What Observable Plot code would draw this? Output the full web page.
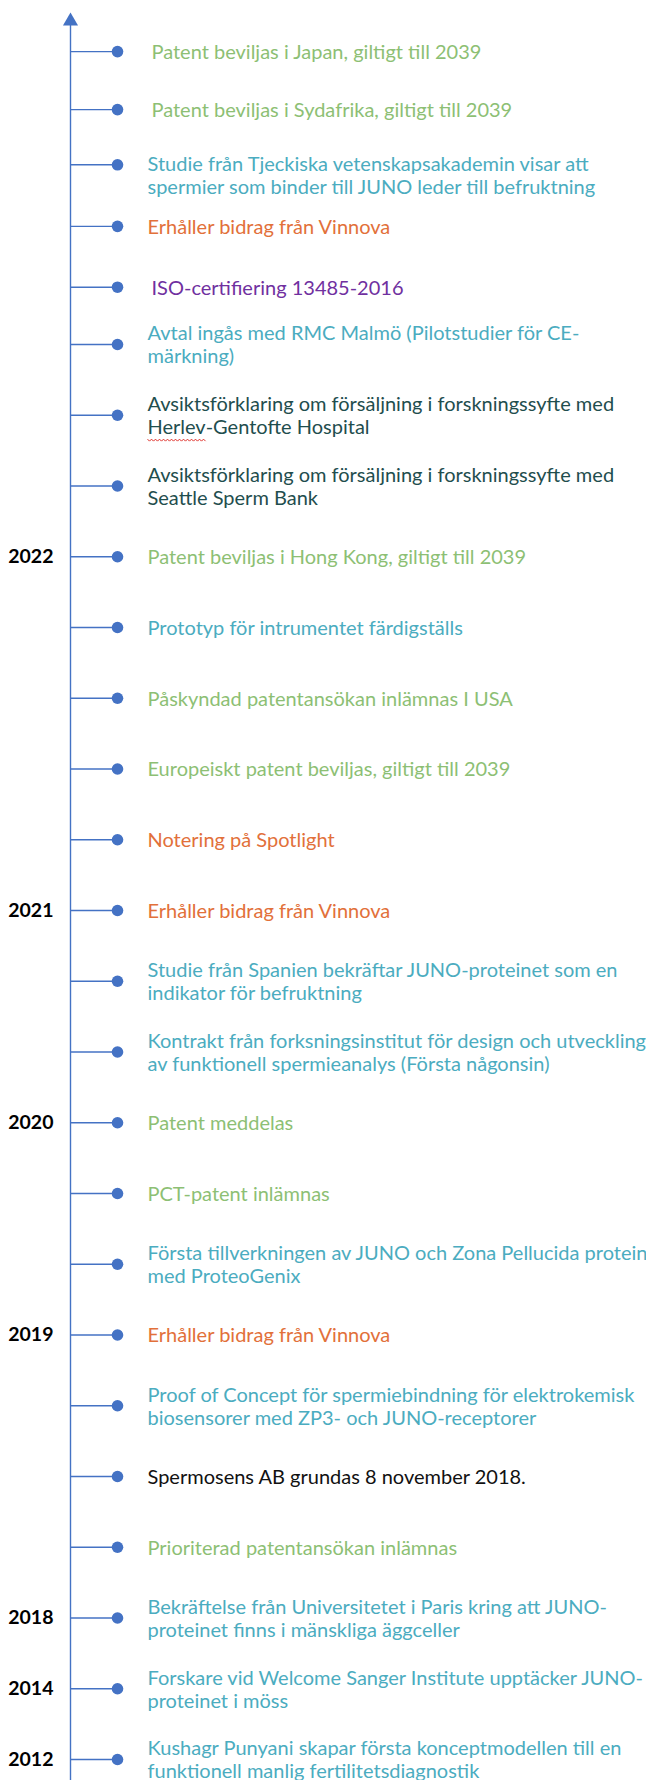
<!DOCTYPE html>
<html>
<head>
<meta charset="utf-8">
<script src="https://cdn.jsdelivr.net/npm/d3@7"></script>
<script src="https://cdn.jsdelivr.net/npm/@observablehq/plot@0.6"></script>
<style>
  html, body { margin: 0; padding: 0; background: #ffffff; }
  #chart svg { display: block; }
</style>
</head>
<body>
<div id="chart"></div>
<script>
// Events from top (latest) to bottom (earliest)
const eventTexts = [
  "Patent beviljas i Japan, giltigt till 2039",
  "Patent beviljas i Sydafrika, giltigt till 2039",
  "Studie från Tjeckiska vetenskapsakademin visar att\nspermier som binder till JUNO leder till befruktning",
  "Erhåller bidrag från Vinnova",
  "ISO-certifiering 13485-2016",
  "Avtal ingås med RMC Malmö (Pilotstudier för CE-\nmärkning)",
  "Avsiktsförklaring om försäljning i forskningssyfte med\nHerlev-Gentofte Hospital",
  "Avsiktsförklaring om försäljning i forskningssyfte med\nSeattle Sperm Bank",
  "Patent beviljas i Hong Kong, giltigt till 2039",
  "Prototyp för intrumentet färdigställs",
  "Påskyndad patentansökan inlämnas I USA",
  "Europeiskt patent beviljas, giltigt till 2039",
  "Notering på Spotlight",
  "Erhåller bidrag från Vinnova",
  "Studie från Spanien bekräftar JUNO-proteinet som en\nindikator för befruktning",
  "Kontrakt från forksningsinstitut för design och utveckling\nav funktionell spermieanalys (Första någonsin)",
  "Patent meddelas",
  "PCT-patent inlämnas",
  "Första tillverkningen av JUNO och Zona Pellucida protein\nmed ProteoGenix",
  "Erhåller bidrag från Vinnova",
  "Proof of Concept för spermiebindning för elektrokemisk\nbiosensorer med ZP3- och JUNO-receptorer",
  "Spermosens AB grundas 8 november 2018.",
  "Prioriterad patentansökan inlämnas",
  "Bekräftelse från Universitetet i Paris kring att JUNO-\nproteinet finns i mänskliga äggceller",
  "Forskare vid Welcome Sanger Institute upptäcker JUNO-\nproteinet i möss",
  "Kushagr Punyani skapar första konceptmodellen till en\nfunktionell manlig fertilitetsdiagnostik"
];

// Category of each event (drives text colour)
const eventCategories = [
  "patent", "patent", "studie", "bidrag", "iso", "studie", "avsikt", "avsikt",
  "patent", "studie", "patent", "patent", "bidrag", "bidrag", "studie", "studie",
  "patent", "patent", "studie", "bidrag", "studie", "grund", "patent",
  "studie", "studie", "studie"
];

// Position of each event along the timeline (0 = earliest)
const eventPositions = [
  24.14, 23.32, 22.54, 21.67, 20.81, 20, 19, 18,
  17, 16, 15, 14, 13, 12, 11, 10,
  9, 8, 7, 6, 5, 4, 3,
  2, 1, 0
];

// Year labels shown beside certain events
const eventYears = [
  "", "", "", "", "", "", "", "",
  "2022", "", "", "", "", "2021", "", "",
  "2020", "", "", "2019", "", "", "",
  "2018", "2014", "2012"
];

const categoryNames = ["patent", "studie", "bidrag", "iso", "avsikt", "grund"];
const categoryColors = ["#8dbf74", "#4bacc0", "#e2703a", "#7030a0", "#1f4e4e", "#111111"];

const events = eventTexts.map((text, i) => ({
  i, text, category: eventCategories[i], pos: eventPositions[i], year: eventYears[i]
}));
const yearEvents = events.filter(d => d.year !== "");

const W = 646, H = 1780;
const AXIS_X = 70, DOT_X = 117, TEXT_X = 147, YEAR_X = 53;
const BLUE = "#4472c4";
const FONT = "Lato, 'Open Sans', sans-serif";
const topPos = 24.862, bottomPos = -0.297;

// layout quirks of the original slide
const indented = new Set([0, 1, 4]);   // text boxes placed slightly further right
const dropped = new Set([2]);          // text box whose first line sits on the dot
const regular = events.filter(d => !indented.has(d.i) && !dropped.has(d.i));

const textOpts = {
  y: "pos", text: "text", fill: "category",
  textAnchor: "start", lineAnchor: "middle", lineHeight: 1.15,
  fontSize: 20, fontFamily: FONT
};

const chart = Plot.plot({
  width: W,
  height: H,
  margin: 0,
  style: { background: "#ffffff", overflow: "visible" },
  x: { domain: [0, W], axis: null },
  y: { domain: [bottomPos, topPos], axis: null },
  color: { domain: categoryNames, range: categoryColors },
  marks: [
    // vertical time axis
    Plot.ruleX([AXIS_X], { y1: bottomPos, y2: 24.57, stroke: BLUE, strokeWidth: 1.4 }),
    // arrow head
    Plot.dot([{ x: AXIS_X, y: 24.57 }], { x: "x", y: "y", symbol: "triangle", r: 5.6, fill: BLUE, stroke: "none" }),
    // connectors
    Plot.ruleY(events, { y: "pos", x1: AXIS_X, x2: DOT_X, stroke: BLUE, strokeWidth: 1.4 }),
    // dots
    Plot.dot(events, { x: () => DOT_X, y: "pos", r: 5.8, fill: BLUE, stroke: "none" }),
    // event texts
    Plot.text(regular, { ...textOpts, x: () => TEXT_X }),
    Plot.text(events.filter(d => indented.has(d.i)), { ...textOpts, x: () => TEXT_X, dx: 4 }),
    Plot.text(events.filter(d => dropped.has(d.i)), { ...textOpts, x: () => TEXT_X, dy: 10 }),
    // year labels
    Plot.text(yearEvents, {
      x: () => YEAR_X, y: "pos", text: "year", fill: "#000000",
      textAnchor: "end", lineAnchor: "middle",
      fontSize: 19.5, fontWeight: "bold", fontFamily: FONT
    })
  ]
});
document.getElementById("chart").appendChild(chart);

// spell-check style squiggle under "Herlev"
try {
  const tspans = chart.querySelectorAll("text tspan");
  for (const el of tspans) {
    if (el.textContent.startsWith("Herlev")) {
      const textEl = el.parentNode;
      const n = "Herlev".length;
      const s = el.getStartPositionOfChar(0);
      const e = el.getEndPositionOfChar(n - 1);
      const y0 = s.y + 5;
      let dPath = `M${s.x.toFixed(1)},${y0.toFixed(1)}`;
      const step = 2;
      let k = 0;
      for (let xx = s.x + step; xx <= e.x + 0.1; xx += step, k++) {
        dPath += ` L${xx.toFixed(1)},${(y0 + (k % 2 === 0 ? 2 : 0)).toFixed(1)}`;
      }
      const p = document.createElementNS("http://www.w3.org/2000/svg", "path");
      p.setAttribute("d", dPath);
      p.setAttribute("fill", "none");
      p.setAttribute("stroke", "#e0302a");
      p.setAttribute("stroke-width", "1");
      const tr = textEl.getAttribute("transform");
      if (tr) p.setAttribute("transform", tr);
      textEl.parentNode.appendChild(p);
      break;
    }
  }
} catch (err) {}
</script>
</body>
</html>
